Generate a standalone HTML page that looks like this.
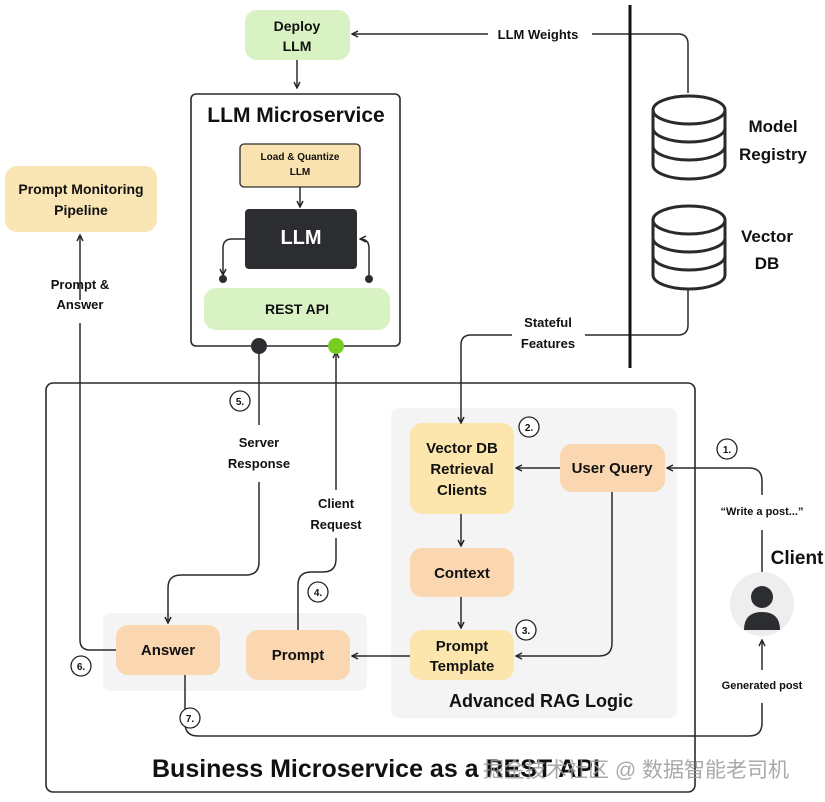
<!DOCTYPE html>
<html><head><meta charset="utf-8"><style>
body{margin:0;background:#fff;}
svg{display:block;font-family:"Liberation Sans","Noto Sans CJK SC",sans-serif;font-weight:bold;}
</style></head><body>
<svg width="825" height="802" viewBox="0 0 825 802">
<defs>
<marker id="a" markerWidth="8" markerHeight="8" refX="7" refY="4" orient="auto" markerUnits="userSpaceOnUse"><path d="M1,1 L7,4 L1,7" fill="none" stroke="#222" stroke-width="1.4"/></marker>
</defs>
<g fill="none" stroke="#2a2a2a" stroke-width="1.6">
<rect x="46" y="383" width="649" height="409" rx="7"/>
<rect x="191" y="94" width="209" height="252" rx="5"/>
</g>
<rect x="391" y="408" width="286" height="310" rx="8" fill="#f4f4f4"/>
<rect x="103" y="613" width="264" height="78" rx="8" fill="#f4f4f4"/>
<rect x="245" y="10" width="105" height="50" rx="12" fill="#d8f2c3"/>
<rect x="240" y="144" width="120" height="43" rx="4" fill="#fae3b0" stroke="#2a2a2a" stroke-width="1.3"/>
<rect x="245" y="209" width="112" height="60" rx="4" fill="#2b2d30"/>
<rect x="204" y="288" width="186" height="42" rx="12" fill="#d8f2c3"/>
<rect x="5" y="166" width="152" height="66" rx="12" fill="#fae5b5"/>
<rect x="410" y="423" width="104" height="91" rx="12" fill="#fce6ae"/>
<rect x="560" y="444" width="105" height="48" rx="12" fill="#fad7b0"/>
<rect x="410" y="548" width="104" height="49" rx="12" fill="#fad7b0"/>
<rect x="410" y="630" width="104" height="50" rx="12" fill="#fce6ae"/>
<rect x="116" y="625" width="104" height="50" rx="12" fill="#fad7b0"/>
<rect x="246" y="630" width="104" height="50" rx="12" fill="#fad7b0"/>
<g fill="none" stroke="#2a2a2a" stroke-width="1.5">
<line x1="297" y1="60" x2="297" y2="88" marker-end="url(#a)"/>
<line x1="300" y1="187" x2="300" y2="207" marker-end="url(#a)"/>
<path d="M245,239 H232 Q223,239 223,248 V275" marker-end="url(#a)"/>
<path d="M369,279 V248 Q369,239 360,239" marker-end="url(#a)"/>
<path d="M488,34 H352" marker-end="url(#a)"/>
<path d="M592,34 H678 Q688,34 688,44 V93"/>
<path d="M688,290 V325 Q688,335 678,335 H585"/>
<path d="M512,335 H471 Q461,335 461,345 V423" marker-end="url(#a)"/>
<path d="M80,300 V235" marker-end="url(#a)"/>
<path d="M80,323 V640 Q80,650 90,650 H116"/>
<path d="M259,346 V425"/>
<path d="M259,482 V562 Q259,575 246,575 H181 Q168,575 168,588 V623" marker-end="url(#a)"/>
<path d="M298,630 V585 Q298,572 311,572 H323 Q336,572 336,559 V538"/>
<path d="M336,490 V352" marker-end="url(#a)"/>
<line x1="461" y1="514" x2="461" y2="546" marker-end="url(#a)"/>
<line x1="461" y1="597" x2="461" y2="628" marker-end="url(#a)"/>
<line x1="560" y1="468" x2="516" y2="468" marker-end="url(#a)"/>
<path d="M612,492 V643 Q612,656 599,656 H516" marker-end="url(#a)"/>
<line x1="410" y1="656" x2="352" y2="656" marker-end="url(#a)"/>
<path d="M762,495 V481 Q762,468 749,468 H667" marker-end="url(#a)"/>
<path d="M762,572 V530"/>
<path d="M762,670 V640" marker-end="url(#a)"/>
<path d="M762,703 V723 Q762,736 749,736 H198 Q185,736 185,723 V675"/>
</g>
<line x1="630" y1="5" x2="630" y2="368" stroke="#111" stroke-width="3"/>
<circle cx="223" cy="279" r="4" fill="#2b2d30"/>
<circle cx="369" cy="279" r="4" fill="#2b2d30"/>
<circle cx="259" cy="346" r="8" fill="#2b2d30"/>
<circle cx="336" cy="346" r="8" fill="#77cc22"/>
<g fill="#fff" stroke="#2a2a2a" stroke-width="3">
<path d="M653,110 V165 A36,14 0 0 0 725,165 V110"/>
<ellipse cx="689" cy="110" rx="36" ry="14"/>
<path d="M653,128 A36,14 0 0 0 725,128 M653,146 A36,14 0 0 0 725,146" fill="none"/>
<path d="M653,220 V275 A36,14 0 0 0 725,275 V220"/>
<ellipse cx="689" cy="220" rx="36" ry="14"/>
<path d="M653,238 A36,14 0 0 0 725,238 M653,256 A36,14 0 0 0 725,256" fill="none"/>
</g>
<circle cx="762" cy="604" r="32" fill="#eeeeee"/>
<circle cx="762" cy="597" r="11" fill="#2b2d30"/>
<path d="M744,630 Q744,612 762,612 Q780,612 780,630 Z" fill="#2b2d30"/>
<g fill="#fff" stroke="#222" stroke-width="1.3">
<circle cx="727" cy="449" r="10"/><circle cx="529" cy="427" r="10"/><circle cx="526" cy="630" r="10"/>
<circle cx="318" cy="592" r="10"/><circle cx="240" cy="401" r="10"/><circle cx="81" cy="666" r="10"/><circle cx="190" cy="718" r="10"/>
</g>
<g font-size="10" fill="#111" text-anchor="middle">
<text x="727" y="453">1.</text><text x="529" y="431">2.</text><text x="526" y="634">3.</text>
<text x="318" y="596">4.</text><text x="240" y="405">5.</text><text x="81" y="670">6.</text><text x="190" y="722">7.</text>
</g>
<g fill="#111" text-anchor="middle" font-size="14">
<text x="297" y="31">Deploy</text><text x="297" y="51">LLM</text>
<text x="296" y="122" font-size="21">LLM Microservice</text>
<text x="300" y="160" font-size="10">Load &amp; Quantize</text><text x="300" y="175" font-size="10">LLM</text>
<text x="301" y="244" font-size="20" fill="#fff">LLM</text>
<text x="297" y="314">REST API</text>
<text x="81" y="194">Prompt Monitoring</text><text x="81" y="215">Pipeline</text>
<text x="80" y="289" font-size="13">Prompt &amp;</text><text x="80" y="309" font-size="13">Answer</text>
<text x="538" y="39" font-size="13">LLM Weights</text>
<text x="773" y="132" font-size="17">Model</text><text x="773" y="160" font-size="17">Registry</text>
<text x="767" y="242" font-size="17">Vector</text><text x="767" y="269" font-size="17">DB</text>
<text x="548" y="327" font-size="13">Stateful</text><text x="548" y="348" font-size="13">Features</text>
<text x="259" y="447" font-size="13">Server</text><text x="259" y="468" font-size="13">Response</text>
<text x="336" y="508" font-size="13">Client</text><text x="336" y="529" font-size="13">Request</text>
<text x="462" y="453" font-size="15">Vector DB</text><text x="462" y="474" font-size="15">Retrieval</text><text x="462" y="495" font-size="15">Clients</text>
<text x="612" y="473" font-size="15">User Query</text>
<text x="462" y="578" font-size="15">Context</text>
<text x="462" y="651" font-size="15">Prompt</text><text x="462" y="671" font-size="15">Template</text>
<text x="168" y="655" font-size="15">Answer</text>
<text x="298" y="660" font-size="15">Prompt</text>
<text x="541" y="707" font-size="18">Advanced RAG Logic</text>
<text x="762" y="515" font-size="11">“Write a post...”</text>
<text x="797" y="564" font-size="19">Client</text>
<text x="762" y="689" font-size="11">Generated post</text>
</g>
<text x="152" y="777" font-size="25" fill="#111">Business Microservice as a REST API</text>
<text x="483" y="777" font-size="21" fill="#9a9a9a" fill-opacity="0.85" font-weight="normal">掘金技术社区 @ 数据智能老司机</text>
</svg>
</body></html>
